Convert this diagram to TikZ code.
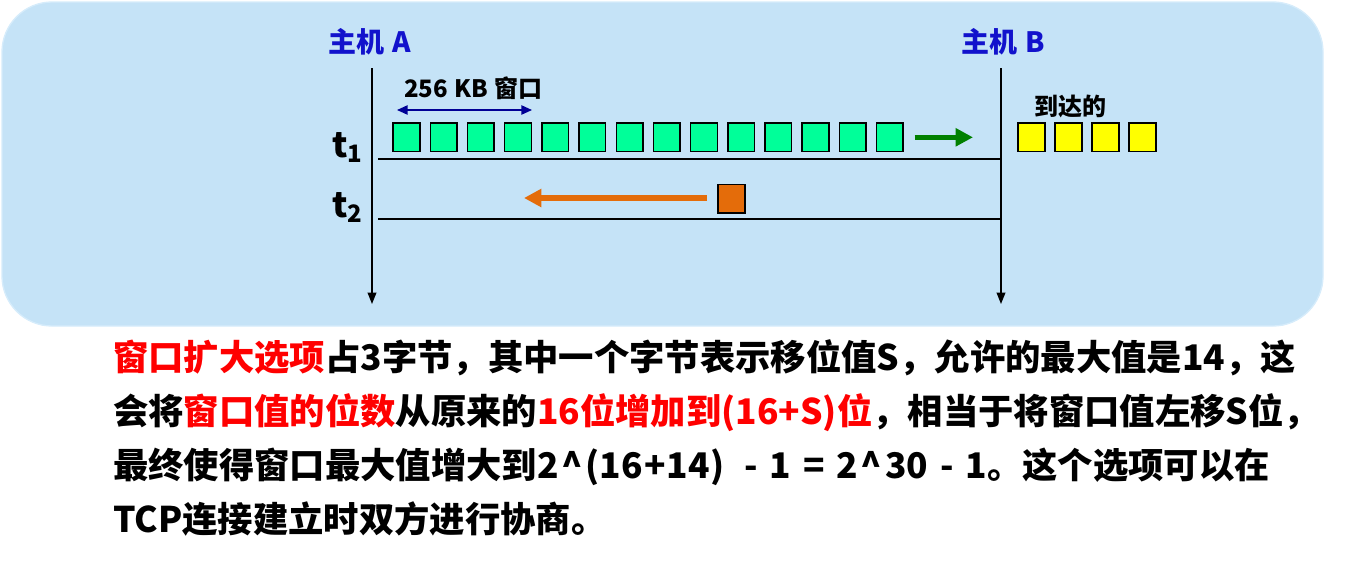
\documentclass[tikz,border=0pt]{standalone}
\usepackage{fontspec}
\setmainfont{Noto Sans CJK SC}
\usetikzlibrary{arrows.meta}
\definecolor{panelfill}{RGB}{197,227,247}
\definecolor{panelrim}{RGB}{214,236,251}
\definecolor{hostblue}{RGB}{18,18,204}
\definecolor{winnavy}{RGB}{0,0,150}
\definecolor{segsent}{RGB}{0,255,153}
\definecolor{segarrived}{RGB}{255,255,0}
\definecolor{ackorange}{RGB}{228,108,10}
\definecolor{sendgreen}{RGB}{0,128,0}

\begin{document}
\begin{tikzpicture}[x=0.75pt,y=0.75pt,yscale=-1,xscale=1,
  font=\bfseries,
  seg/.style={draw, line width=1.1pt, inner sep=0pt, minimum width=20pt, minimum height=21.5pt},
  hostline/.style={line width=1.1pt, -{Triangle[width=6.5pt,length=8.5pt]}},
  timeline/.style={line width=1.6pt},
  flow/.style={line width=3.8pt, -{Triangle[width=13pt,length=13pt]}},
  bodytext/.style={anchor=base west, inner sep=0pt, font=\bfseries\fontsize{26.5}{26.5}\selectfont}]
\useasboundingbox (0,0) rectangle (1347,561);

%Shape: Rounded Rectangle [panel]
\draw [draw=panelrim, line width=1pt, fill=panelfill, rounded corners=37.5pt] (2,2) rectangle (1323,326);

% Text Node
\draw (370,42) node (hostA) [text=hostblue, font=\bfseries\fontsize{21}{21}\selectfont] {主机\hspace{6pt}A};
% Text Node
\draw (1003,42) node (hostB) [text=hostblue, font=\bfseries\fontsize{21}{21}\selectfont] {主机\hspace{6pt}B};

%Straight Lines [host time axes]
\coordinate (topA) at (372,68);
\coordinate (endA) at (372,304);
\coordinate (topB) at (1001,68);
\coordinate (endB) at (1001,304);
\draw [hostline] (topA) -- (endA);
\draw [hostline] (topB) -- (endB);

%Straight Lines [t1, t2]
\coordinate (t1) at (378,159);
\coordinate (t2) at (378,219);
\draw [timeline] (t1) -- (t1 -| topB);
\draw [timeline] (t2) -- (t2 -| topB);

%Shape: Squares [sent segments]
\foreach \i in {0,...,13}
  \draw (406.5+37.18*\i,137.3) node (g\i) [seg, fill=segsent] {};
%Shape: Squares [arrived segments]
\foreach \i in {0,...,3}
  \draw (1031.5+37*\i,137.3) node (y\i) [seg, fill=segarrived] {};
%Shape: Square [ack]
\draw (731.5,198.7) node (ack) [seg, fill=ackorange] {};

%Straight Lines [send arrow]
\coordinate (sendtip) at (973,137.3);
\draw [flow, sendgreen] ([xshift=8pt]g13.east) -- (sendtip);
%Straight Lines [ack arrow]
\coordinate (acktip) at (524,198);
\draw [flow, ackorange] ([xshift=-8pt]ack.west |- acktip) -- (acktip);

%Straight Lines [window size]
\coordinate (winL) at (397,110);
\coordinate (winR) at (532,110);
\draw [winnavy, line width=1.1pt, {Triangle[width=7pt,length=8pt]}-{Triangle[width=7pt,length=8pt]}] (winL) -- (winR);

% Text Node
\draw (473.5,88.5) node (winlabel) [font=\bfseries\fontsize{18}{18}\selectfont] {256\hspace{5pt}KB\hspace{5pt}窗口};
% Text Node
\draw (1070,106) node (arrived) [font=\bfseries\fontsize{18}{18}\selectfont] {到达的};
% Text Node
\draw (332,157) node (lblt1) [anchor=base west, inner sep=0pt, font=\bfseries\fontsize{26}{26}\selectfont] {t\raisebox{-4pt}{\fontsize{18}{18}\selectfont 1}};
% Text Node
\draw (332,217) node (lblt2) [anchor=base west, inner sep=0pt, font=\bfseries\fontsize{26}{26}\selectfont] {t\raisebox{-4pt}{\fontsize{18}{18}\selectfont 2}};

% Text Node
\draw (113,370) node (line1) [bodytext] {\textcolor{red}{窗口扩大选项}占3字节，其中一个字节表示移位值S，允许的最大值是14，这};
% Text Node
\draw (113,424) node (line2) [bodytext] {会将\textcolor{red}{窗口值的位数}从原来的\textcolor{red}{16位增加到(16+S)位}，相当于将窗口值左移S位，};
% Text Node
\draw (113,478) node (line3) [bodytext] {最终使得窗口最大值增大到2\hspace{2pt}\textasciicircum\hspace{2pt}(16\hspace{1pt}+\hspace{1pt}14)\hspace{15pt}-\hspace{9pt}1\hspace{9pt}=\hspace{9pt}2\hspace{2pt}\textasciicircum\hspace{2pt}30\hspace{9pt}-\hspace{9pt}1。这个选项可以在};
% Text Node
\draw (113,532) node (line4) [bodytext] {TCP连接建立时双方进行协商。};

\end{tikzpicture}
\end{document}
